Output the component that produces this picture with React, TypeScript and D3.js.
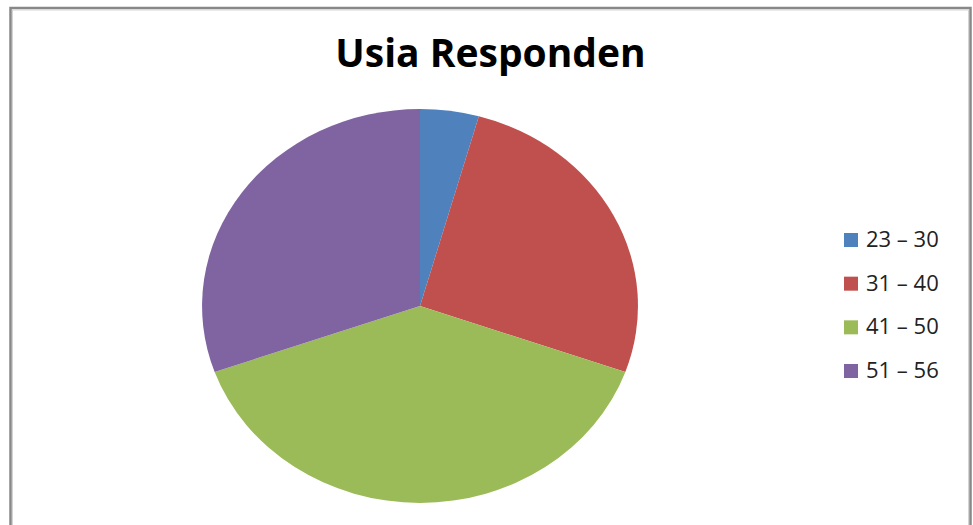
import React, { useEffect, useRef } from "react";
import * as d3 from "d3";

const categories = ["23 – 30", "31 – 40", "41 – 50", "51 – 56"];
const values = [2, 12, 18, 14];
const colors = ["#4F81BD", "#C0504D", "#9BBB59", "#8064A2"];
const title = "Usia Responden";

export default function App() {
  const ref = useRef<SVGSVGElement | null>(null);

  useEffect(() => {
    const svg = d3.select(ref.current);
    svg.selectAll("*").remove();
    const W = 973, H = 525;

    svg.append("rect").attr("width", W).attr("height", H).attr("fill", "#fff");

    // frame
    svg.append("rect")
      .attr("x", 10.5).attr("y", 8).attr("width", 960).attr("height", 540)
      .attr("fill", "none").attr("stroke", "#888").attr("stroke-width", 2.5);
    svg.append("rect")
      .attr("x", 12.5).attr("y", 10).attr("width", 956).attr("height", 540)
      .attr("fill", "none").attr("stroke", "#d4d4d4").attr("stroke-width", 1);

    svg.append("text")
      .attr("x", 490.5).attr("y", 67)
      .attr("text-anchor", "middle")
      .attr("font-family", "'Open Sans', sans-serif")
      .attr("font-weight", "bold")
      .attr("font-size", 39)
      .attr("fill", "#000")
      .text(title);

    const cx = 420, cy = 306, rx = 218, ry = 197;
    const pie = d3.pie<number>().sort(null).value(d => d);
    const arc = d3.arc<d3.PieArcDatum<number>>().innerRadius(0).outerRadius(1);
    const g = svg.append("g")
      .attr("transform", `translate(${cx},${cy}) scale(${rx},${ry})`);
    g.selectAll("path")
      .data(pie(values))
      .join("path")
      .attr("d", d => arc(d) as string)
      .attr("fill", (_, i) => colors[i]);

    const lg = svg.append("g");
    const rowY = d3.scaleLinear().domain([0, 3]).range([240, 371]);
    categories.forEach((c, i) => {
      const y = rowY(i);
      lg.append("rect")
        .attr("x", 844).attr("y", y - 7).attr("width", 14).attr("height", 14)
        .attr("fill", colors[i]);
      lg.append("text")
        .attr("x", 866).attr("y", y + 7)
        .attr("font-family", "'Open Sans', sans-serif")
        .attr("font-size", 22)
        .attr("fill", "#222")
        .text(c);
    });
  }, []);

  return (
    <svg
      ref={ref}
      width={973}
      height={525}
      style={{ position: "absolute", left: 0, top: 0, display: "block" }}
    />
  );
}
